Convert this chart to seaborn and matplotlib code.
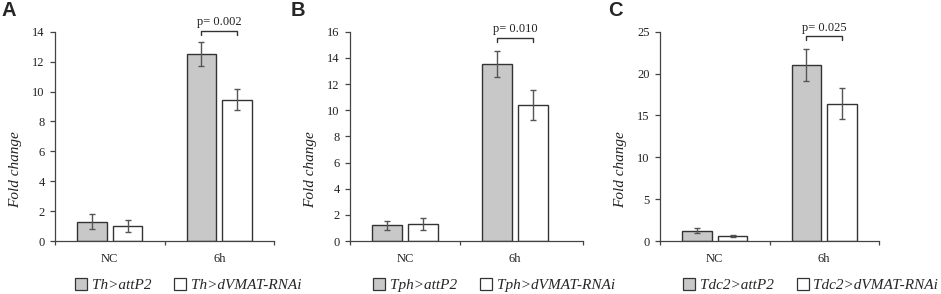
import matplotlib
matplotlib.use("Agg")
import matplotlib.pyplot as plt
import seaborn as sns
import pandas as pd
import numpy as np
from matplotlib.patches import Patch
from matplotlib.ticker import FixedLocator, MultipleLocator

# ---------------- data ----------------
categories = ["NC", "6h"]
panel_letters = ["A", "B", "C"]
control_labels = ["Th>attP2", "Tph>attP2", "Tdc2>attP2"]
rnai_labels = ["Th>dVMAT-RNAi", "Tph>dVMAT-RNAi", "Tdc2>dVMAT-RNAi"]
ctrl_means = [[1.3, 12.5], [1.2, 13.55], [1.25, 21.0]]
ctrl_err = [[0.5, 0.8], [0.33, 1.0], [0.25, 1.9]]
rnai_means = [[1.0, 9.45], [1.3, 10.4], [0.55, 16.4]]
rnai_err = [[0.4, 0.7], [0.48, 1.15], [0.12, 1.85]]
p_texts = ["p= 0.002", "p= 0.010", "p= 0.025"]
y_max = [14, 16, 25]
y_step = [2, 2, 5]

# ---------------- style ----------------
sns.set_theme(style="ticks")
plt.rcParams["font.family"] = ["Liberation Serif", "DejaVu Serif"]

W, H = 941, 294
fig = plt.figure(figsize=(W / 100, H / 100), dpi=100)

GRAY = "#c8c8c8"
EDGE = "#333333"
AXC = "#444444"
ERRC = "#555555"

# pixel layout: (left, right) of each axes, shared bottom/top
ax_px = [(55, 274), (350, 583), (660, 879)]
xr_right = [1.5, 1.5 + 13 / 110, 1.5]
bottom_px, top_px = 241, 31.7
legend_x_px = [75, 373, 683]
bracket_frac = [1.004, 0.971, 0.979]
letter_x_px = [2, 291, 608]

for i in range(3):
    l, r = ax_px[i]
    ax = fig.add_axes([l / W, 1 - bottom_px / H, (r - l) / W, (bottom_px - top_px) / H])
    df = pd.DataFrame({
        "time": categories * 2,
        "value": ctrl_means[i] + rnai_means[i],
        "genotype": [control_labels[i]] * 2 + [rnai_labels[i]] * 2,
    })
    sns.barplot(data=df, x="time", y="value", hue="genotype",
                palette=[GRAY, "white"], edgecolor=EDGE, linewidth=1.0,
                width=0.655, gap=0.18, errorbar=None, legend=False, ax=ax)
    errs = [ctrl_err[i], rnai_err[i]]
    for cont, e in zip(ax.containers, errs):
        xs = [b.get_x() + b.get_width() / 2 for b in cont]
        ys = [b.get_height() for b in cont]
        ax.errorbar(xs, ys, yerr=e, fmt="none", ecolor=ERRC, elinewidth=1.0,
                    capsize=2.2, capthick=1.0, zorder=5)

    ax.set_xlim(-0.5, xr_right[i])
    ax.set_ylim(0, y_max[i])
    ax.yaxis.set_major_locator(MultipleLocator(y_step[i]))
    for s in ["top", "right"]:
        ax.spines[s].set_visible(False)
    for s in ["left", "bottom"]:
        ax.spines[s].set_color(AXC)
        ax.spines[s].set_linewidth(0.9)
    ax.tick_params(axis="y", length=3.5, width=0.9, color=AXC, pad=4,
                   labelsize=9, labelcolor="#222222")
    ax.tick_params(axis="x", which="major", length=0, pad=9,
                   labelsize=9, labelcolor="#222222")
    ax.xaxis.set_minor_locator(FixedLocator([-0.5, 0.5, xr_right[i]]))
    ax.tick_params(axis="x", which="minor", length=3, width=0.9, color=AXC)
    ax.set_xlabel("")
    ax.set_ylabel("Fold change", fontstyle="italic", fontsize=11, color="#222222")
    ax.yaxis.set_label_coords(-33 / (r - l), 0.34)

    # significance bracket over the 6h group
    c0, c1 = ax.containers[0][1], ax.containers[1][1]
    x0 = c0.get_x() + c0.get_width() / 2
    x1 = c1.get_x() + c1.get_width() / 2
    trans = ax.get_xaxis_transform()
    yb = bracket_frac[i]
    ax.plot([x0, x0, x1, x1], [yb - 0.021, yb, yb, yb - 0.021], color="#333333",
            lw=1.0, transform=trans, clip_on=False)
    ax.annotate(p_texts[i], xy=((x0 + x1) / 2, yb), xycoords=trans,
                xytext=(0, 8.5), textcoords="offset pixels",
                ha="center", va="center", fontsize=9, color="#222222",
                annotation_clip=False)

    handles = [Patch(facecolor=GRAY, edgecolor=EDGE, linewidth=0.9),
               Patch(facecolor="white", edgecolor=EDGE, linewidth=0.9)]
    fig.legend(handles, [control_labels[i], rnai_labels[i]],
               loc="center left", bbox_to_anchor=(legend_x_px[i] / W, 1 - 285 / H),
               ncol=2, frameon=False, borderpad=0, borderaxespad=0,
               handlelength=0.8, handleheight=0.8, handletextpad=0.3,
               columnspacing=1.5,
               prop={"family": "Liberation Serif", "style": "italic", "size": 11})

    fig.text(letter_x_px[i] / W, 1 - 10 / H, panel_letters[i], ha="left", va="center",
             fontsize=14.5, fontweight="bold", family=["Liberation Sans", "DejaVu Sans"])

fig.savefig("out.png", dpi=100)
